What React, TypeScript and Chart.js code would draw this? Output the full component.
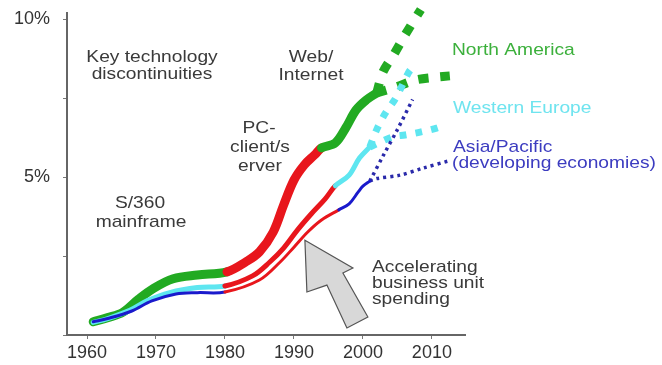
import React, { useEffect, useRef } from "react";
import { Chart, registerables } from "chart.js";

Chart.register(...registerables);

// ---------- data ----------
const xTicks = [1960, 1970, 1980, 1990, 2000, 2010];
const yTicks = [0, 2.5, 5, 7.5, 10];
const yTickLabels: Record<string, string> = { "5": "5%", "10": "10%" };

// solid history lines: [year, % of revenue]
const northAmerica = [
  [1960.9, 0.42], [1963, 0.55], [1965.2, 0.72], [1967.4, 1.12], [1969.6, 1.47],
  [1972.5, 1.78], [1976, 1.9], [1980.3, 2.0], [1983, 2.31], [1985, 2.63],
  [1987, 3.26], [1988.5, 4.11], [1990, 4.9], [1991.5, 5.38], [1993, 5.7],
  [1994, 5.92], [1996, 6.08], [1997.5, 6.55], [1999, 7.12], [2000.5, 7.44], [2002, 7.66],
];
const westernEurope = [
  [1960.9, 0.4], [1963, 0.52], [1966.2, 0.78], [1968.7, 1.08], [1972, 1.34],
  [1976, 1.5], [1980, 1.55], [1984, 1.87], [1986.5, 2.31], [1988.5, 2.75],
  [1990.5, 3.32], [1992.5, 3.83], [1994.5, 4.3], [1996, 4.72], [1998, 5.06],
  [1999.5, 5.6], [2001, 5.95],
];
const asiaPacific = [
  [1960.9, 0.42], [1963, 0.52], [1966.5, 0.76], [1969.4, 1.08], [1972.9, 1.3],
  [1976, 1.34], [1980, 1.36], [1985, 1.74], [1988, 2.31], [1990, 2.78],
  [1992, 3.26], [1994, 3.64], [1996.5, 3.96], [1998, 4.15], [1999.3, 4.52],
  [2000, 4.71], [2001, 4.87],
];

// years in which business-unit spending (red) dominates
const naRedSpan = [1980, 1994];
const weRedSpan = [1980, 1996];
const apRedSpan = [1980, 1996.5];

// projections
const naHigh = [[2002, 7.66], [2002.9, 8.32], [2004.6, 8.92], [2006.1, 9.49], [2008.4, 10.3]];
const naLow = [[2002, 7.66], [2004.7, 7.84], [2007.6, 8.07], [2010.6, 8.16], [2012.6, 8.2]];
const weHigh = [[2001, 5.95], [2002, 6.5], [2003.2, 7.0], [2004.6, 7.44], [2005.6, 7.85], [2006.6, 8.3], [2007.3, 8.5]];
const weLow = [[2001, 5.95], [2004.3, 6.27], [2006.1, 6.33], [2008.3, 6.42], [2010.7, 6.55], [2011.6, 6.62]];
const apHigh = [[2001, 4.87], [2003, 5.7], [2005, 6.5], [2007.2, 7.45]];
const apLow = [[2001, 4.87], [2002, 4.95], [2005.4, 5.06], [2008.7, 5.28], [2012.6, 5.52]];

// annotation arrow outline in data units
const arrowShape = [
  [1991.59, 3.0], [1998.55, 2.12], [1997.1, 1.96], [2000.72, 0.57],
  [1997.68, 0.22], [1994.78, 1.58], [1991.88, 1.36],
];

// ---------- style ----------
const GREEN = "#22aa22";
const RED = "#e8161c";
const CYAN = "#5ee6f0";
const BLUE = "#1a1acc";
const NAVY = "#2a2aaa";
const FONT = '"Liberation Sans", Arial, sans-serif';

const toXY = (arr: number[][]) => arr.map(([x, y]) => ({ x, y }));

const colorBySpan = (span: number[], base: string) => (ctx: any) => {
  const x0 = ctx.p0.parsed.x;
  return x0 >= span[0] - 0.01 && x0 < span[1] - 0.01 ? RED : base;
};

function drawText(
  ctx: CanvasRenderingContext2D,
  text: string,
  x: number,
  y: number,
  align: "left" | "center",
  color: string,
  size = 17,
  sx = 1.13
) {
  ctx.save();
  ctx.font = `${size}px ${FONT}`;
  ctx.fillStyle = color;
  ctx.textBaseline = "middle";
  ctx.textAlign = "left";
  const w = ctx.measureText(text).width * sx;
  const left = align === "center" ? x - w / 2 : x;
  ctx.translate(left, y);
  ctx.scale(sx, 1);
  ctx.fillText(text, 0, 0);
  ctx.restore();
}

const TEXT = "#3a3a3a";
const labels: [string, number, number, "left" | "center", string][] = [
  ["Key technology", 152, 57, "center", TEXT],
  ["discontinuities", 152, 74, "center", TEXT],
  ["Web/", 311, 57, "center", TEXT],
  ["Internet", 311, 75, "center", TEXT],
  ["PC-", 259, 128, "center", TEXT],
  ["client/s", 260, 147, "center", TEXT],
  ["erver", 260, 166, "center", TEXT],
  ["S/360", 140, 203, "center", TEXT],
  ["mainframe", 141, 222, "center", TEXT],
  ["North America", 452, 50, "left", "#3cb03c"],
  ["Western Europe", 453, 108, "left", "#6fe4ef"],
  ["Asia/Pacific", 453, 147, "left", "#3c3cc0"],
  ["(developing economies)", 452, 163, "left", "#3c3cc0"],
  ["Accelerating", 372, 267, "left", TEXT],
  ["business unit", 372, 283, "left", TEXT],
  ["spending", 372, 299, "left", TEXT],
];

const decorPlugin = {
  id: "decor",
  beforeDatasetsDraw(chart: any) {
    const { ctx, scales } = chart;
    const xs = scales.x;
    const ys = scales.y;
    ctx.save();
    ctx.beginPath();
    arrowShape.forEach(([x, y], i) => {
      const px = xs.getPixelForValue(x);
      const py = ys.getPixelForValue(y);
      if (i === 0) ctx.moveTo(px, py);
      else ctx.lineTo(px, py);
    });
    ctx.closePath();
    ctx.fillStyle = "#d8d8d8";
    ctx.fill();
    ctx.strokeStyle = "#555";
    ctx.lineWidth = 1.2;
    ctx.stroke();
    ctx.restore();
  },
  afterDraw(chart: any) {
    const { ctx } = chart;
    labels.forEach(([t, x, y, a, c]) => drawText(ctx, t, x, y, a, c));
  },
};

export default function App() {
  const ref = useRef<HTMLCanvasElement | null>(null);

  useEffect(() => {
    if (!ref.current) return;
    const solidBase = {
      pointRadius: 0,
      tension: 0.35,
      borderCapStyle: "round",
      borderJoinStyle: "round",
      clip: false,
      fill: false,
    };
    const dashBase = {
      pointRadius: 0,
      tension: 0.3,
      borderCapStyle: "butt",
      borderJoinStyle: "miter",
      clip: false,
      fill: false,
    };
    const chart = new Chart(ref.current, {
      type: "line",
      data: {
        datasets: [
          { ...solidBase, label: "Asia/Pacific", data: toXY(asiaPacific), borderColor: BLUE, borderWidth: 3, segment: { borderColor: colorBySpan(apRedSpan, BLUE) } },
          { ...solidBase, label: "Western Europe", data: toXY(westernEurope), borderColor: CYAN, borderWidth: 5, segment: { borderColor: colorBySpan(weRedSpan, CYAN) } },
          { ...solidBase, label: "North America", data: toXY(northAmerica), borderColor: GREEN, borderWidth: 9, segment: { borderColor: colorBySpan(naRedSpan, GREEN) } },
          { ...dashBase, label: "AP high", data: toXY(apHigh), borderColor: NAVY, borderWidth: 3.5, borderDash: [3, 4] },
          { ...dashBase, label: "AP low", data: toXY(apLow), borderColor: NAVY, borderWidth: 3.5, borderDash: [3, 4] },
          { ...dashBase, label: "WE high", data: toXY(weHigh), borderColor: CYAN, borderWidth: 7, borderDash: [7, 9] },
          { ...dashBase, label: "WE low", data: toXY(weLow), borderColor: CYAN, borderWidth: 7, borderDash: [7, 9] },
          { ...dashBase, label: "NA high", data: toXY(naHigh), borderColor: GREEN, borderWidth: 9, borderDash: [10, 12] },
          { ...dashBase, label: "NA low", data: toXY(naLow), borderColor: GREEN, borderWidth: 9, borderDash: [10, 12] },
        ] as any,
      },
      options: {
        animation: false,
        responsive: false,
        maintainAspectRatio: false,
        layout: { padding: { left: 0, top: 13, right: 197, bottom: 0 } },
        plugins: { legend: { display: false }, tooltip: { enabled: false } },
        scales: {
          x: {
            type: "linear",
            min: 1957.1,
            max: 2014.8,
            afterBuildTicks: (s: any) => {
              s.ticks = xTicks.map((v) => ({ value: v }));
            },
            afterFit: (s: any) => {
              s.height = 30;
              s.paddingLeft = 0;
              s.paddingRight = 0;
            },
            grid: { display: true, drawOnChartArea: false, tickLength: 4, color: "#777", lineWidth: 1 },
            border: { display: true, color: "#666", width: 2 },
            ticks: {
              font: { family: FONT, size: 18 },
              color: "#333",
              padding: 3,
              maxRotation: 0,
              autoSkip: false,
              callback: (v: any) => String(v),
            },
          },
          y: {
            type: "linear",
            min: 0,
            max: 10.19,
            afterBuildTicks: (s: any) => {
              s.ticks = yTicks.map((v) => ({ value: v }));
            },
            afterFit: (s: any) => {
              s.width = 67;
              s.paddingTop = 0;
              s.paddingBottom = 0;
            },
            grid: { display: true, drawOnChartArea: false, tickLength: 4, color: "#777", lineWidth: 1 },
            border: { display: true, color: "#666", width: 2 },
            ticks: {
              font: { family: FONT, size: 18 },
              color: "#333",
              padding: 13,
              autoSkip: false,
              callback: (v: any) => yTickLabels[String(v)] ?? "",
            },
          },
        },
      },
      plugins: [decorPlugin],
    } as any);
    return () => chart.destroy();
  }, []);

  return (
    <div style={{ position: "absolute", left: 0, top: 0, width: 662, height: 365, background: "#fff" }}>
      <canvas ref={ref} width={662} height={365} style={{ display: "block", width: 662, height: 365 }} />
    </div>
  );
}
